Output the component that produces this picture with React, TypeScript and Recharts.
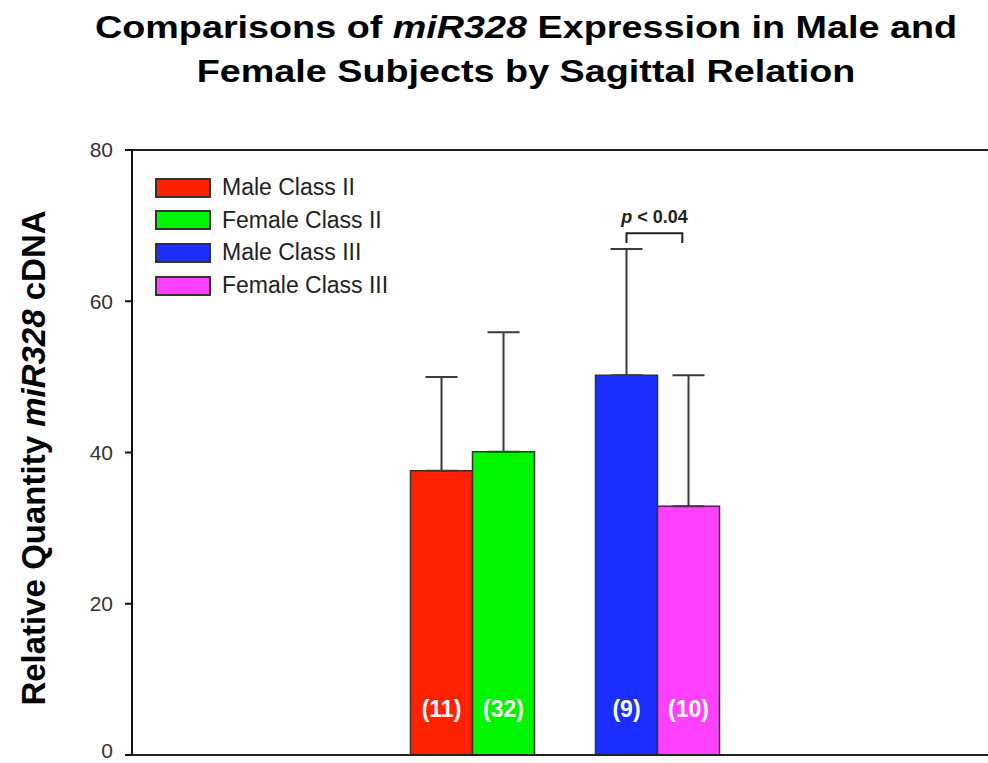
import React from 'react';
import {
  BarChart,
  Bar,
  XAxis,
  YAxis,
  ErrorBar,
  Cell,
  LabelList,
  ReferenceLine,
} from 'recharts';

document.body.style.margin = '0';

const FONT = '"Liberation Sans", Arial, sans-serif';

const GROUPS = ['Class II', 'Class III'];
const MALE_MEAN = [37.6, 50.2];
const MALE_SD = [12.4, 16.7];
const MALE_N = [11, 9];
const FEMALE_MEAN = [40.1, 32.9];
const FEMALE_SD = [15.8, 17.3];
const FEMALE_N = [32, 10];
const MALE_COLORS = ['#ff2200', '#1a2eff']; // Class II, Class III
const FEMALE_COLORS = ['#00f500', '#ff40ff'];
const P_LABELS = ['', 'p < 0.04'];
const Y_TICKS = [0, 20, 40, 60, 80];
const LEGEND_NAMES = ['Male Class II', 'Female Class II', 'Male Class III', 'Female Class III'];
const LEGEND_COLORS = ['#ff2200', '#00f500', '#1a2eff', '#ff40ff'];

// bracket level in data units
const BRACKET_TOP = 69;
const BRACKET_DROP = 67.7;
const BRACKET_TEXT = 70.3;

const rows = GROUPS.map((group, i) => ({
  group,
  male: MALE_MEAN[i],
  maleErr: [0, MALE_SD[i]],
  maleN: MALE_N[i],
  female: FEMALE_MEAN[i],
  femaleErr: [0, FEMALE_SD[i]],
  femaleN: FEMALE_N[i],
  pText: P_LABELS[i],
}));

const renderYTick = (props: any) => {
  const { x, y, payload } = props;
  // keep the bottom label inside the page
  const shift = payload.value === 0 ? -4 : 0;
  return (
    <text
      x={x}
      y={Number(y) + shift}
      dy="0.355em"
      textAnchor="end"
      fontSize={21}
      fill="#333"
      fontFamily={FONT}
    >
      {payload.value}
    </text>
  );
};

const renderCount = (props: any) => {
  const { x, y, width, height, value } = props;
  const cx = Number(x) + Number(width) / 2;
  const base = Number(y) + Number(height);
  return (
    <text
      x={cx}
      y={base - 38}
      textAnchor="middle"
      fill="#ffffff"
      fontSize={23}
      fontWeight="bold"
      fontFamily={FONT}
    >
      ({value})
    </text>
  );
};

const renderBracket = (props: any) => {
  const { x, y, width, height, value, index } = props;
  if (!value) return null;
  const i = typeof index === 'number' ? index : 1;
  const zero = Number(y) + Number(height);
  const perUnit = Number(height) / MALE_MEAN[i];
  const toY = (v: number) => zero - v * perUnit;
  const left = Number(x) + Number(width) / 2;
  const right = Number(x) + Number(width) * 1.4;
  const s = String(value);
  return (
    <g>
      <path
        d={`M${left},${toY(BRACKET_DROP)} L${left},${toY(BRACKET_TOP)} L${right},${toY(BRACKET_TOP)} L${right},${toY(BRACKET_DROP)}`}
        fill="none"
        stroke="#222"
        strokeWidth={2}
      />
      <text
        x={(left + right) / 2}
        y={toY(BRACKET_TEXT)}
        textAnchor="middle"
        fontSize={18}
        fontWeight="bold"
        fontFamily={FONT}
        fill="#222"
      >
        <tspan fontStyle="italic">{s.charAt(0)}</tspan>
        {s.slice(1)}
      </text>
    </g>
  );
};

export default function App() {
  return (
    <div style={{ position: 'relative', width: 988, height: 763, background: '#fff', fontFamily: FONT }}>
      <BarChart
        width={988}
        height={763}
        data={rows}
        margin={{ top: 150, right: 0, left: 0, bottom: 7 }}
        barGap={0}
      >
        <XAxis
          dataKey="group"
          tick={false}
          tickLine={false}
          height={1}
          padding={{ left: 247.5, right: 238.5 }}
          axisLine={{ stroke: '#222', strokeWidth: 2 }}
        />
        <YAxis
          width={132}
          domain={[0, 80]}
          ticks={Y_TICKS}
          interval={0}
          tickSize={7}
          tickMargin={12}
          tick={renderYTick}
          axisLine={{ stroke: '#111', strokeWidth: 2 }}
          tickLine={{ stroke: '#111', strokeWidth: 2 }}
        />
        <ReferenceLine y={80} stroke="#222" strokeWidth={2} />
        <Bar dataKey="male" barSize={62} stroke="#333" strokeWidth={1.5} isAnimationActive={false}>
          {rows.map((r, i) => (
            <Cell key={`m-${r.group}`} fill={MALE_COLORS[i]} />
          ))}
          <ErrorBar dataKey="maleErr" width={16} strokeWidth={2} stroke="#3a3a3a" direction="y" />
          <LabelList dataKey="maleN" content={renderCount} />
          <LabelList dataKey="pText" content={renderBracket} />
        </Bar>
        <Bar dataKey="female" barSize={62} stroke="#333" strokeWidth={1.5} isAnimationActive={false}>
          {rows.map((r, i) => (
            <Cell key={`f-${r.group}`} fill={FEMALE_COLORS[i]} />
          ))}
          <ErrorBar dataKey="femaleErr" width={16} strokeWidth={2} stroke="#3a3a3a" direction="y" />
          <LabelList dataKey="femaleN" content={renderCount} />
        </Bar>
      </BarChart>

      {/* title and y axis label */}
      <svg
        width={988}
        height={763}
        style={{ position: 'absolute', left: 0, top: 0, pointerEvents: 'none' }}
      >
        <g transform="translate(526,0) scale(1.18,1)">
          <text x={0} y={38} textAnchor="middle" fontSize={32} fontWeight="bold" fontFamily={FONT} fill="#000">
            Comparisons of <tspan fontStyle="italic">miR328</tspan> Expression in Male and
          </text>
          <text x={0} y={82} textAnchor="middle" fontSize={32} fontWeight="bold" fontFamily={FONT} fill="#000">
            Female Subjects by Sagittal Relation
          </text>
        </g>
        <text
          transform="translate(45,458) rotate(-90)"
          textAnchor="middle"
          fontSize={33}
          fontWeight="bold"
          fontFamily={FONT}
          fill="#000"
        >
          Relative Quantity <tspan fontStyle="italic">miR328</tspan> cDNA
        </text>
      </svg>

      {/* legend */}
      <div style={{ position: 'absolute', left: 155, top: 178 }}>
        {LEGEND_NAMES.map((name, i) => (
          <div key={name} style={{ display: 'flex', alignItems: 'center', height: 32.6 }}>
            <div
              style={{
                width: 52,
                height: 16,
                background: LEGEND_COLORS[i],
                border: '2px solid #333',
                marginTop: -13,
              }}
            />
            <span style={{ fontSize: 23, color: '#222', marginLeft: 11, marginTop: -13, lineHeight: '23px' }}>
              {name}
            </span>
          </div>
        ))}
      </div>
    </div>
  );
}
